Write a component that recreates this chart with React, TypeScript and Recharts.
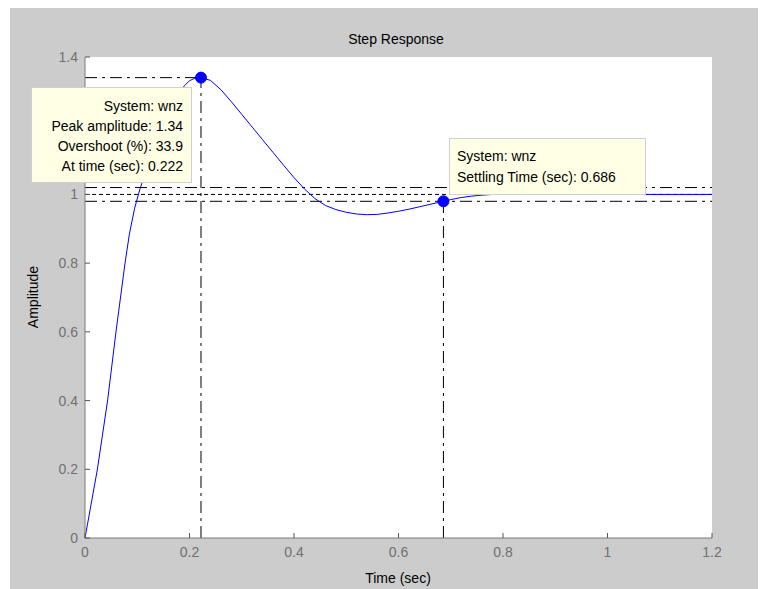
import React from 'react';
import { LineChart, Line, XAxis, YAxis, ReferenceLine, ReferenceDot, CartesianGrid } from 'recharts';

// Step response samples (time in seconds, amplitude)
const timeSec = [
  0, 0.0235, 0.0434, 0.0593, 0.0766, 0.085, 0.095, 0.105, 0.115, 0.125, 0.14, 0.15, 0.16, 0.17,
  0.18, 0.19, 0.2, 0.21, 0.222, 0.24, 0.26, 0.28, 0.3, 0.32, 0.34, 0.36, 0.38, 0.4, 0.42, 0.44,
  0.46, 0.48, 0.5, 0.52, 0.54, 0.56, 0.58, 0.6, 0.62, 0.64, 0.66, 0.686, 0.7, 0.72, 0.74, 0.76,
  0.78, 0.8, 0.85, 0.9, 1.0, 1.1, 1.2,
];
const amplitude = [
  0, 0.198, 0.402, 0.6, 0.8, 0.885, 0.96, 1.015, 1.06, 1.1, 1.158, 1.196, 1.232, 1.265,
  1.293, 1.316, 1.331, 1.338, 1.34, 1.332, 1.305, 1.27, 1.233, 1.196, 1.159, 1.122, 1.085, 1.049,
  1.016, 0.988, 0.968, 0.956, 0.948, 0.943, 0.941, 0.942, 0.946, 0.951, 0.957, 0.964, 0.971,
  0.98, 0.985, 0.991, 0.995, 0.998, 1.0, 1.0, 1.0, 1.0, 1.0, 1.0, 1.0,
];

const xTicks = [0, 0.2, 0.4, 0.6, 0.8, 1, 1.2];
const xTickLabels = ['0', '0.2', '0.4', '0.6', '0.8', '1', '1.2'];
const yTicks = [0, 0.2, 0.4, 0.6, 0.8, 1, 1.2, 1.4];
const yTickLabels = ['0', '0.2', '0.4', '0.6', '0.8', '1', '1.2', '1.4'];

// Characteristics shown in the data tips
const systemName = 'wnz';
const peakTime = 0.222;
const peakAmplitude = 1.34;
const overshootPct = 33.9;
const settlingTime = 0.686;
const settlingAmplitude = 0.98;
const finalValue = 1;
const bandUpper = 1.02;
const bandLower = 0.98;

const data = timeSec.map((t, i) => ({ t, y: amplitude[i] }));

const FONT = '"Liberation Sans", Arial, sans-serif';
const TICK_COLOR = '#555';
const LABEL_COLOR = '#707070';
const FRAME = '#7a7a7a';
const DASH_DOT = '12 5 3 5';
const CURVE = '#0000ff';

const BottomTick = (props: any) => {
  const { x, y, payload } = props;
  const label = xTickLabels[xTicks.indexOf(payload.value)];
  return (
    <g>
      <line x1={x} x2={x} y1={y} y2={y - 5} stroke={TICK_COLOR} />
      <text x={x} y={y + 19} textAnchor="middle" fill={LABEL_COLOR} fontSize={14} fontFamily={FONT}>
        {label}
      </text>
    </g>
  );
};

const TopTick = (props: any) => {
  const { x, y } = props;
  return <line x1={x} x2={x} y1={y} y2={y + 5} stroke={TICK_COLOR} />;
};

const LeftTick = (props: any) => {
  const { x, y, payload } = props;
  const label = yTickLabels[yTicks.indexOf(payload.value)];
  return (
    <g>
      <line x1={x} x2={x + 5} y1={y} y2={y} stroke={TICK_COLOR} />
      <text x={x - 7} y={y + 5} textAnchor="end" fill={LABEL_COLOR} fontSize={14} fontFamily={FONT}>
        {label}
      </text>
    </g>
  );
};

const RightTick = (props: any) => {
  const { x, y } = props;
  return <line x1={x} x2={x - 5} y1={y} y2={y} stroke={TICK_COLOR} />;
};

const tipBox: React.CSSProperties = {
  position: 'absolute',
  background: '#ffffe6',
  border: '1px solid #cfcfcf',
  boxSizing: 'border-box',
  fontFamily: FONT,
  fontSize: 14,
  color: '#000',
  whiteSpace: 'nowrap',
};

export default function App() {
  return (
    <div
      style={{
        position: 'relative',
        width: 756,
        height: 581,
        marginLeft: 2,
        background: '#cccccc',
        fontFamily: FONT,
        overflow: 'hidden',
      }}
    >
      <LineChart
        width={756}
        height={581}
        data={data}
        margin={{ top: 49, right: 54, bottom: 0, left: 0 }}
        style={{ position: 'absolute', left: 0, top: 0 }}
      >
        <CartesianGrid horizontal={false} vertical={false} fill="#ffffff" fillOpacity={1} stroke="none" />
        <XAxis
          dataKey="t"
          type="number"
          domain={[0, 1.2]}
          ticks={xTicks}
          interval={0}
          height={51}
          tickSize={0}
          tickMargin={0}
          tickLine={false}
          axisLine={{ stroke: FRAME }}
          tick={<BottomTick />}
        />
        <XAxis
          xAxisId="top"
          orientation="top"
          dataKey="t"
          type="number"
          domain={[0, 1.2]}
          ticks={xTicks}
          interval={0}
          height={0}
          tickSize={0}
          tickMargin={0}
          tickLine={false}
          axisLine={{ stroke: FRAME }}
          tick={<TopTick />}
        />
        <YAxis
          type="number"
          domain={[0, 1.4]}
          ticks={yTicks}
          interval={0}
          width={75}
          tickSize={0}
          tickMargin={0}
          tickLine={false}
          axisLine={{ stroke: FRAME }}
          tick={<LeftTick />}
        />
        <YAxis
          yAxisId="right"
          orientation="right"
          type="number"
          domain={[0, 1.4]}
          ticks={yTicks}
          interval={0}
          width={0}
          tickSize={0}
          tickMargin={0}
          tickLine={false}
          axisLine={{ stroke: FRAME }}
          tick={<RightTick />}
        />

        {/* settling band and final value */}
        <ReferenceLine y={bandUpper} stroke="#000" strokeDasharray={DASH_DOT} />
        <ReferenceLine y={finalValue} stroke="#000" strokeDasharray="4 3" />
        <ReferenceLine y={bandLower} stroke="#000" strokeDasharray={DASH_DOT} />

        {/* peak response guides */}
        <ReferenceLine
          segment={[{ x: 0, y: peakAmplitude }, { x: peakTime, y: peakAmplitude }]}
          stroke="#000"
          strokeDasharray={DASH_DOT}
        />
        <ReferenceLine
          segment={[{ x: peakTime, y: 0 }, { x: peakTime, y: peakAmplitude }]}
          stroke="#000"
          strokeDasharray={DASH_DOT}
        />
        {/* settling time guide */}
        <ReferenceLine
          segment={[{ x: settlingTime, y: 0 }, { x: settlingTime, y: settlingAmplitude }]}
          stroke="#000"
          strokeDasharray={DASH_DOT}
        />

        <Line
          dataKey="y"
          stroke={CURVE}
          strokeWidth={1}
          dot={false}
          type="linear"
          isAnimationActive={false}
        />

        <ReferenceDot x={peakTime} y={peakAmplitude} r={5.5} fill={CURVE} stroke={CURVE} />
        <ReferenceDot x={settlingTime} y={settlingAmplitude} r={5.5} fill={CURVE} stroke={CURVE} />
      </LineChart>

      {/* title and axis labels */}
      <div
        style={{
          position: 'absolute',
          left: 386,
          top: 31,
          transform: 'translate(-50%, -50%)',
          fontSize: 14,
          color: '#000',
          whiteSpace: 'nowrap',
        }}
      >
        Step Response
      </div>
      <div
        style={{
          position: 'absolute',
          left: 388,
          top: 570,
          transform: 'translate(-50%, -50%)',
          fontSize: 14,
          color: '#000',
          whiteSpace: 'nowrap',
        }}
      >
        Time (sec)
      </div>
      <div
        style={{
          position: 'absolute',
          left: 23,
          top: 289,
          transform: 'translate(-50%, -50%) rotate(-90deg)',
          fontSize: 14,
          color: '#000',
          whiteSpace: 'nowrap',
        }}
      >
        Amplitude
      </div>

      {/* data tips */}
      <div
        style={{
          ...tipBox,
          left: 21,
          top: 79,
          width: 161,
          height: 96,
          padding: '8px 8px 0 0',
          textAlign: 'right',
          lineHeight: '20px',
        }}
      >
        <div>System: {systemName}</div>
        <div>Peak amplitude: {peakAmplitude}</div>
        <div>Overshoot (%): {overshootPct}</div>
        <div>At time (sec): {peakTime}</div>
      </div>
      <div
        style={{
          ...tipBox,
          left: 439,
          top: 130,
          width: 197,
          height: 57,
          padding: '7px 0 0 7px',
          textAlign: 'left',
          lineHeight: '21px',
        }}
      >
        <div>System: {systemName}</div>
        <div>Settling Time (sec): {settlingTime}</div>
      </div>
    </div>
  );
}
